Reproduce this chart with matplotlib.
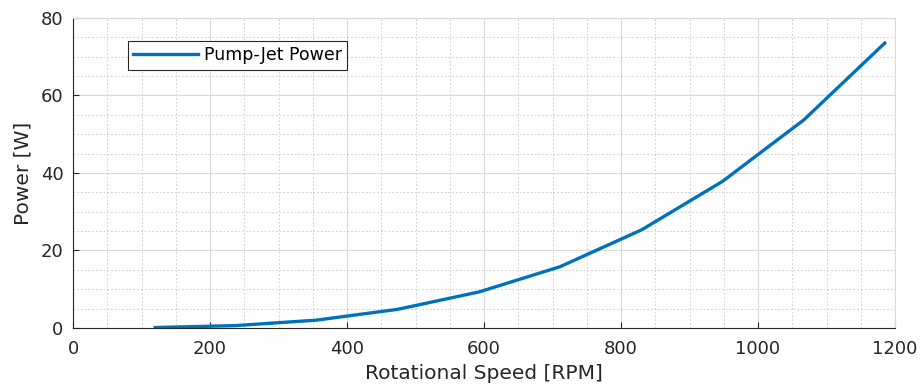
import numpy as np
import matplotlib.pyplot as plt
from matplotlib.ticker import MultipleLocator

plt.rcParams['font.family'] = ['DejaVu Sans']

# pump-jet power curve
rpm = [120, 237, 355, 474, 593, 711, 830, 948, 1067, 1185]
power = [0.1, 0.6, 2.0, 4.8, 9.3, 15.8, 25.3, 37.8, 53.7, 73.5]

fig = plt.figure(figsize=(9.21, 3.89), dpi=100)
ax = fig.add_axes([0.0793, 0.157, 0.8925, 0.797])

ax.plot(rpm, power, color='#0072BD', linewidth=2.4, label='Pump-Jet Power')

ax.set_xlim(0, 1200)
ax.set_ylim(0, 80)
ax.xaxis.set_major_locator(MultipleLocator(200))
ax.xaxis.set_minor_locator(MultipleLocator(50))
ax.yaxis.set_major_locator(MultipleLocator(20))
ax.yaxis.set_minor_locator(MultipleLocator(5))

ax.grid(which='major', color='#dadada', linewidth=0.8)
ax.grid(which='minor', color='#c8c8c8', linewidth=0.6, linestyle=(0, (2, 2.5)))
ax.set_axisbelow(True)

for s in ['top', 'right']:
    ax.spines[s].set_color('#dadada')
for s in ['bottom', 'left']:
    ax.spines[s].set_color('#262626')
ax.tick_params(which='major', direction='in', length=4, colors='#262626',
               labelsize=13, top=False, right=False)
ax.tick_params(which='minor', length=0)
ax.tick_params(axis='x', pad=9)
ax.tick_params(axis='y', pad=7)

ax.set_xlabel('Rotational Speed [RPM]', fontsize=14.5, color='#262626', labelpad=4)
ax.set_ylabel('Power [W]', fontsize=14.5, color='#262626', labelpad=6)

leg = ax.legend(loc='upper left', bbox_to_anchor=(0.067, 0.925), fontsize=12.5,
                fancybox=False, framealpha=1, edgecolor='#262626',
                handlelength=3.7, borderaxespad=0, handletextpad=0.35,
                borderpad=0.3)
leg.get_frame().set_linewidth(0.8)

plt.savefig('out.png', dpi=100)
